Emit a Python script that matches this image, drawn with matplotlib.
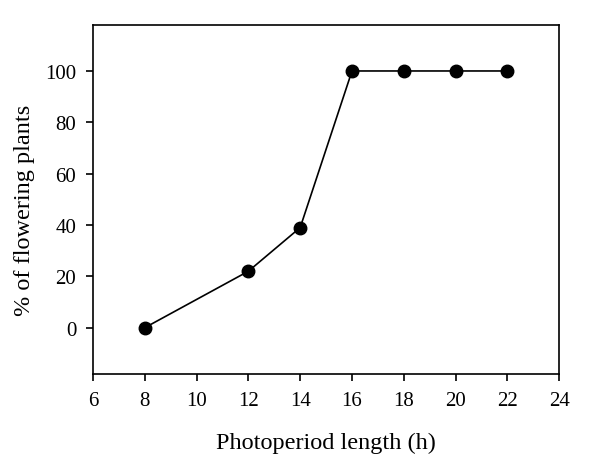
import matplotlib
matplotlib.use('Agg')
import matplotlib.pyplot as plt

plt.rcParams['font.family'] = ['Liberation Serif', 'DejaVu Serif']

photoperiod = [8, 12, 14, 16, 18, 20, 22]
flowering = [0, 22, 39, 100, 100, 100, 100]

fig = plt.figure(figsize=(6, 4.6), dpi=100)
ax = fig.add_axes([0.155, 0.185, 0.777, 0.759])

ax.plot(photoperiod, flowering, color='black', lw=1.2, marker='o',
        ms=9, mfc='black', mec='black')

ax.set_xlim(6, 24)
ax.set_ylim(-18, 118)
ax.set_xticks(range(6, 25, 2))
ax.set_yticks(range(0, 101, 20))
ax.tick_params(direction='out', length=5, width=1.2, labelsize=15, pad=7,
               top=False, right=False)
for s in ax.spines.values():
    s.set_linewidth(1.2)

ax.set_xlabel('Photoperiod length (h)', fontsize=17.5, labelpad=16)
ax.set_ylabel('% of flowering plants', fontsize=17.5)
ax.yaxis.set_label_coords(-0.125, 0.47)

fig.savefig('out.png', dpi=100)
